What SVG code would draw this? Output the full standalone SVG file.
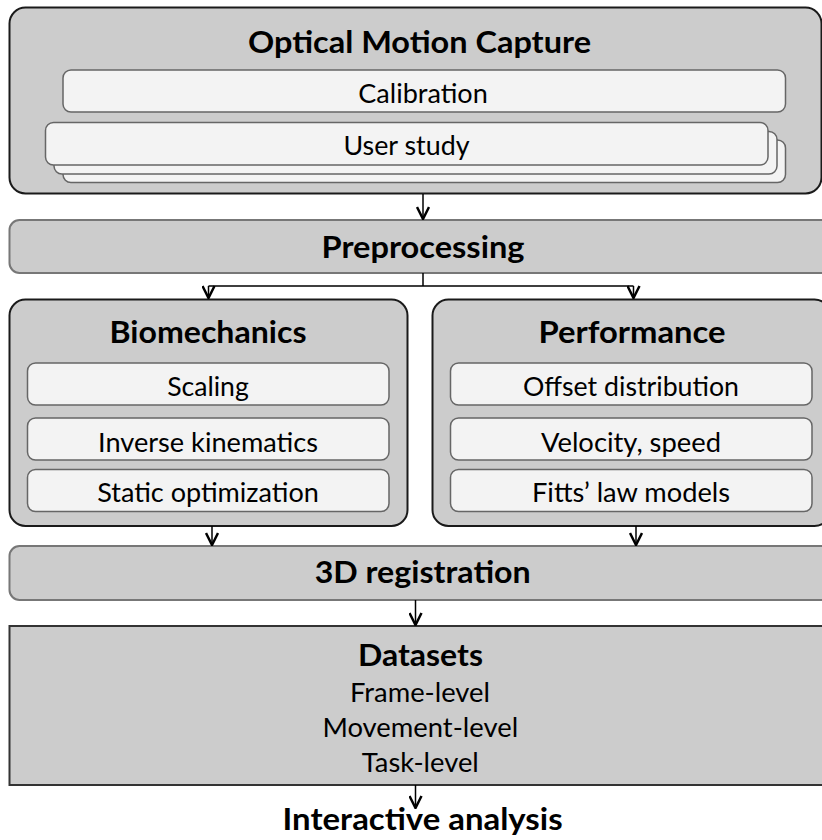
<svg xmlns="http://www.w3.org/2000/svg" width="822" height="840" viewBox="0 0 822 840">
  <style>
    .outer { fill: #cccccc; stroke: #1a1a1a; stroke-width: 2; }
    .band { fill: #cccccc; stroke: #777777; stroke-width: 2; }
    .data { fill: #cccccc; stroke: #333333; stroke-width: 2; }
    .inner { fill: #f3f3f3; stroke: #666666; stroke-width: 1.5; }
    .title { font-family: Lato, "Open Sans", sans-serif; font-weight: bold; font-size: 31px; fill: #000; text-anchor: middle; }
    .label { font-family: Lato, "Open Sans", sans-serif; font-size: 26.5px; fill: #000; text-anchor: middle; }
    .conn { stroke: #000; stroke-width: 1.5; fill: none; }
  </style>
  <defs>
    <marker id="arr" viewBox="0 0 14 14" refX="13" refY="7" markerWidth="14" markerHeight="14" markerUnits="userSpaceOnUse" orient="auto">
      <path d="M1,1 L13,7 L1,13" fill="none" stroke="#000" stroke-width="2.5"/>
    </marker>
  </defs>

  <g id="optical-motion-capture">
    <rect class="outer" x="9.5" y="7.5" width="812" height="186" rx="16"/>
    <text class="title" x="419.5" y="53" textLength="343" lengthAdjust="spacingAndGlyphs">Optical Motion Capture</text>
  </g>
  <g id="calibration">
    <rect class="inner" x="63" y="70" width="722.5" height="42" rx="8"/>
    <text class="label" x="423" y="103" textLength="129.5" lengthAdjust="spacingAndGlyphs">Calibration</text>
  </g>
  <g id="user-study">
    <rect class="inner" x="63" y="140" width="722.5" height="42.5" rx="8"/>
    <rect class="inner" x="54" y="131.5" width="723" height="42.5" rx="8"/>
    <rect class="inner" x="45.5" y="122.5" width="722.5" height="42.5" rx="8"/>
    <text class="label" x="406.5" y="154.5" textLength="126" lengthAdjust="spacingAndGlyphs">User study</text>
  </g>

  <g id="preprocessing">
    <rect class="band" x="9.5" y="220" width="830" height="53" rx="10"/>
    <text class="title" x="423" y="257.5" textLength="203" lengthAdjust="spacingAndGlyphs">Preprocessing</text>
  </g>

  <g id="biomechanics">
    <rect class="outer" x="9.5" y="299.5" width="398" height="226.5" rx="16"/>
    <text class="title" x="208" y="343" textLength="197" lengthAdjust="spacingAndGlyphs">Biomechanics</text>
    <rect class="inner" x="27.5" y="363" width="361.5" height="42" rx="8"/>
    <text class="label" x="208" y="396" textLength="81.6" lengthAdjust="spacingAndGlyphs">Scaling</text>
    <rect class="inner" x="27.5" y="418" width="361.5" height="42" rx="8"/>
    <text class="label" x="208" y="451.5" textLength="220" lengthAdjust="spacingAndGlyphs">Inverse kinematics</text>
    <rect class="inner" x="27.5" y="469.5" width="361.5" height="42" rx="8"/>
    <text class="label" x="208" y="502" textLength="221.7" lengthAdjust="spacingAndGlyphs">Static optimization</text>
  </g>

  <g id="performance">
    <rect class="outer" x="432.5" y="299.5" width="398" height="226.5" rx="16"/>
    <text class="title" x="632" y="343" textLength="187" lengthAdjust="spacingAndGlyphs">Performance</text>
    <rect class="inner" x="450.5" y="363" width="361.5" height="42" rx="8"/>
    <text class="label" x="631" y="396" textLength="216" lengthAdjust="spacingAndGlyphs">Offset distribution</text>
    <rect class="inner" x="450.5" y="418" width="361.5" height="42" rx="8"/>
    <text class="label" x="631" y="451.5" textLength="180" lengthAdjust="spacingAndGlyphs">Velocity, speed</text>
    <rect class="inner" x="450.5" y="469.5" width="361.5" height="42" rx="8"/>
    <text class="label" x="631" y="502" textLength="198" lengthAdjust="spacingAndGlyphs">Fitts’ law models</text>
  </g>

  <g id="registration">
    <rect class="band" x="9.5" y="546" width="830" height="54" rx="10"/>
    <text class="title" x="422.7" y="583" textLength="216" lengthAdjust="spacingAndGlyphs">3D registration</text>
  </g>

  <g id="datasets">
    <rect class="data" x="9.5" y="626" width="830" height="159"/>
    <text class="title" x="420.5" y="666" textLength="125" lengthAdjust="spacingAndGlyphs">Datasets</text>
    <text class="label" x="420" y="701.5" textLength="140" lengthAdjust="spacingAndGlyphs">Frame-level</text>
    <text class="label" x="420.3" y="736.5" textLength="195.6" lengthAdjust="spacingAndGlyphs">Movement-level</text>
    <text class="label" x="420.3" y="771.5" textLength="117" lengthAdjust="spacingAndGlyphs">Task-level</text>
  </g>

  <g id="interactive-analysis">
    <text class="title" x="422.6" y="830" textLength="280" lengthAdjust="spacingAndGlyphs">Interactive analysis</text>
  </g>

  <g id="connectors">
    <line class="conn" x1="423" y1="194" x2="423" y2="219" marker-end="url(#arr)"/>
    <path class="conn" d="M423,273 V286 M208.5,286 H633.5"/>
    <line class="conn" x1="208.5" y1="286" x2="208.5" y2="298" marker-end="url(#arr)"/>
    <line class="conn" x1="633.5" y1="286" x2="633.5" y2="298" marker-end="url(#arr)"/>
    <line class="conn" x1="212" y1="526" x2="212" y2="545" marker-end="url(#arr)"/>
    <line class="conn" x1="636" y1="526" x2="636" y2="545" marker-end="url(#arr)"/>
    <line class="conn" x1="415.5" y1="600" x2="415.5" y2="625" marker-end="url(#arr)"/>
    <line class="conn" x1="415.5" y1="785" x2="415.5" y2="808" marker-end="url(#arr)"/>
  </g>
</svg>
